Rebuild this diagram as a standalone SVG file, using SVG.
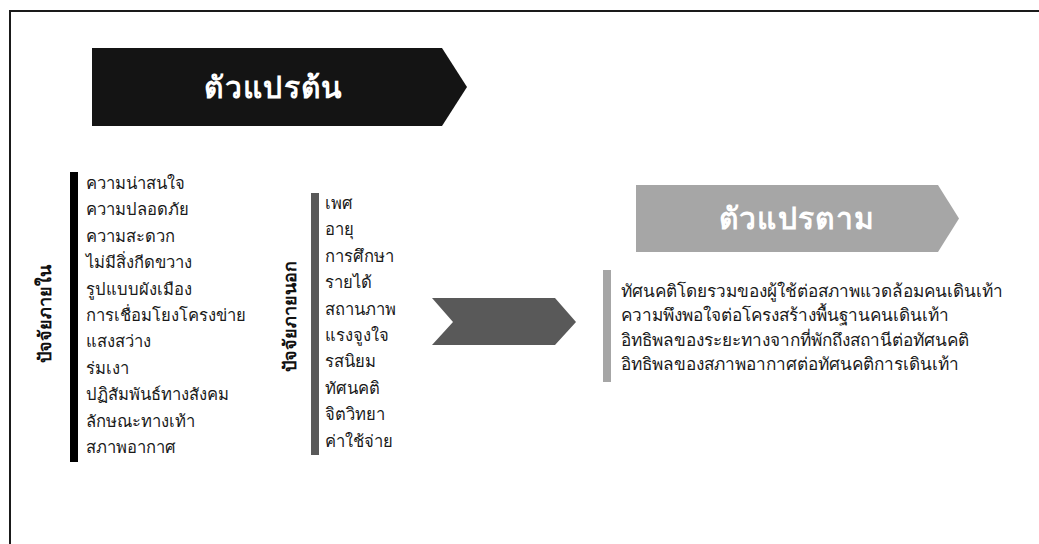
<svg xmlns="http://www.w3.org/2000/svg" width="1039" height="544" viewBox="0 0 1039 544">
<style>
  .t { font-family: "Noto Sans", "Liberation Sans", sans-serif; font-size: 16.6px; fill: #1a1a1a; }
  .r { font-size: 17.2px; }
  .h { font-family: "Noto Sans", "Liberation Sans", sans-serif; font-size: 30px; font-weight: bold; fill: #ffffff; text-anchor: middle; letter-spacing: 1.3px; }
  .v { font-family: "Noto Sans", "Liberation Sans", sans-serif; font-size: 18px; font-weight: bold; fill: #111111; text-anchor: middle; }
</style>
<rect x="0" y="0" width="1039" height="544" fill="#ffffff"/>
<rect x="10" y="11" width="1040" height="560" fill="none" stroke="#1a1a1a" stroke-width="2"/>

<g id="independent-header">
  <polygon points="92,48 442,48 467,87 442,126 92,126" fill="#141414"/>
  <text class="h" x="274" y="98">ตัวแปรต้น</text>
</g>

<g id="dependent-header">
  <polygon points="636,185 938,185 959,218.5 938,252 636,252" fill="#a6a6a6"/>
  <text class="h" x="797" y="229">ตัวแปรตาม</text>
</g>

<g id="internal-factors">
  <rect x="70" y="172" width="8" height="290" fill="#000000"/>
  <text class="v" transform="translate(51,314) rotate(-90)">ปัจจัยภายใน</text>
  <text class="t" x="86" y="189">ความน่าสนใจ</text>
  <text class="t" x="86" y="215.4">ความปลอดภัย</text>
  <text class="t" x="86" y="241.8">ความสะดวก</text>
  <text class="t" x="86" y="268.2">ไม่มีสิ่งกีดขวาง</text>
  <text class="t" x="86" y="294.6">รูปแบบผังเมือง</text>
  <text class="t" x="86" y="321">การเชื่อมโยงโครงข่าย</text>
  <text class="t" x="86" y="347.4">แสงสว่าง</text>
  <text class="t" x="86" y="373.8">ร่มเงา</text>
  <text class="t" x="86" y="400.2">ปฏิสัมพันธ์ทางสังคม</text>
  <text class="t" x="86" y="426.6">ลักษณะทางเท้า</text>
  <text class="t" x="86" y="453">สภาพอากาศ</text>
</g>

<g id="external-factors">
  <rect x="311" y="193" width="8" height="262" fill="#595959"/>
  <text class="v" transform="translate(296,316) rotate(-90)">ปัจจัยภายนอก</text>
  <text class="t" x="325" y="209">เพศ</text>
  <text class="t" x="325" y="235.4">อายุ</text>
  <text class="t" x="325" y="261.8">การศึกษา</text>
  <text class="t" x="325" y="288.2">รายได้</text>
  <text class="t" x="325" y="314.6">สถานภาพ</text>
  <text class="t" x="325" y="341">แรงจูงใจ</text>
  <text class="t" x="325" y="367.4">รสนิยม</text>
  <text class="t" x="325" y="393.8">ทัศนคติ</text>
  <text class="t" x="325" y="420.2">จิตวิทยา</text>
  <text class="t" x="325" y="446.6">ค่าใช้จ่าย</text>
</g>

<g id="connectors">
  <polygon points="432,298 555,298 576,322 555,345 432,345 453,322" fill="#595959"/>
</g>

<g id="dependent-items">
  <rect x="603" y="270" width="8" height="112" fill="#a6a6a6"/>
  <text class="t r" x="621" y="297">ทัศนคติโดยรวมของผู้ใช้ต่อสภาพแวดล้อมคนเดินเท้า</text>
  <text class="t r" x="621" y="321.3">ความพึงพอใจต่อโครงสร้างพื้นฐานคนเดินเท้า</text>
  <text class="t r" x="621" y="345.6">อิทธิพลของระยะทางจากที่พักถึงสถานีต่อทัศนคติ</text>
  <text class="t r" x="621" y="370">อิทธิพลของสภาพอากาศต่อทัศนคติการเดินเท้า</text>
</g>
</svg>
